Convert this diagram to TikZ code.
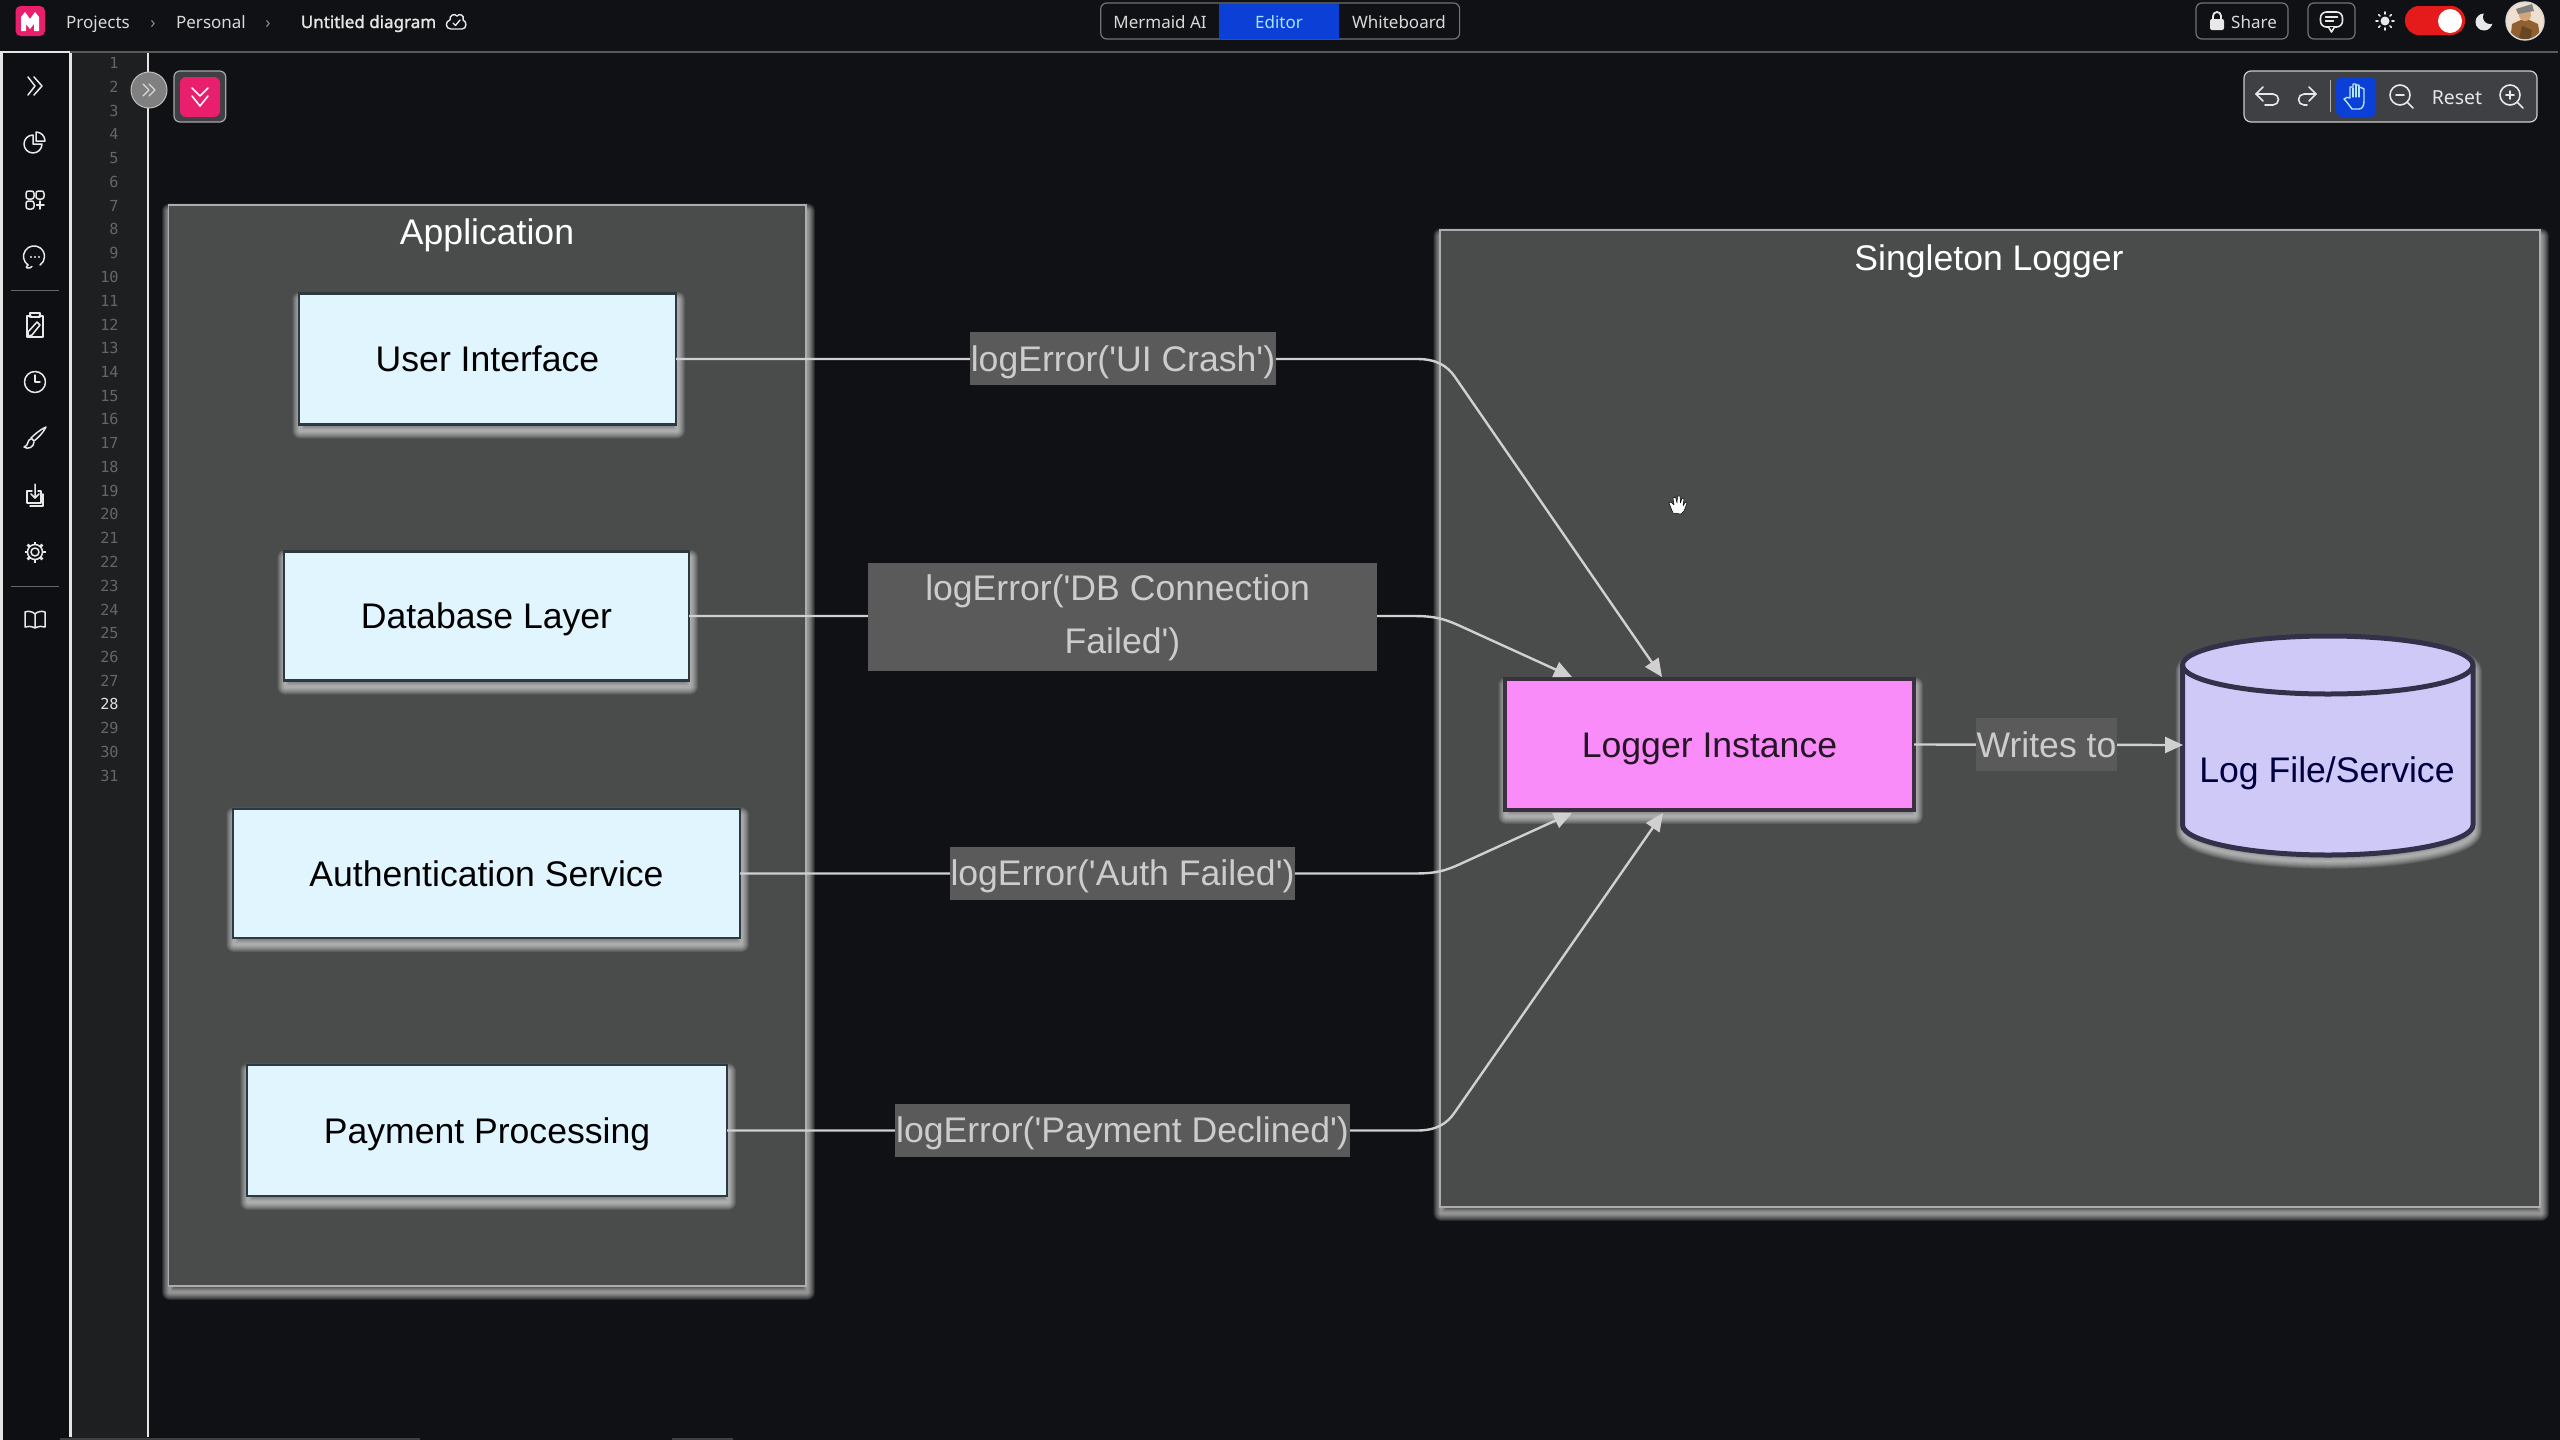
\documentclass[tikz,border=0pt]{standalone}
\usepackage{fontspec}
\usetikzlibrary{arrows.meta}
\setmainfont{Liberation Sans}[Ligatures=TeXOff]
\newfontfamily\uifont{Noto Sans}
\newfontfamily\uibold{Noto Sans}[FakeBold=1.6]
\newfontfamily\monof{DejaVu Sans Mono}
\definecolor{pagebg}{HTML}{101114}
\definecolor{sidebg}{HTML}{0E0F12}
\definecolor{gutterbg}{HTML}{1E1F21}
\definecolor{panelbg}{HTML}{4A4C4C}
\definecolor{lightnode}{HTML}{E1F5FE}
\definecolor{nodeedge}{HTML}{2C3A40}
\definecolor{lognode}{HTML}{F98CF9}
\definecolor{logedge}{HTML}{3A3040}
\definecolor{cylnode}{HTML}{CFC9F7}
\definecolor{cyledge}{HTML}{33304A}
\definecolor{labelbg}{HTML}{5A5A5A}
\definecolor{conncol}{HTML}{D0D0D0}
\definecolor{pinkbrand}{HTML}{E91E6C}
\definecolor{blueact}{HTML}{0B3FD6}
\definecolor{toolbg}{HTML}{3F4044}
\definecolor{ic}{HTML}{E8E8E8}
\tikzset{
  glowlayer/.style={preaction={draw=white,draw opacity=.055,line width=#1,line join=round,transform canvas={xshift=.5pt,yshift=-3pt}}},
  glow/.style={glowlayer=8pt,glowlayer=7.5pt,glowlayer=7pt,glowlayer=6.5pt,glowlayer=6pt,glowlayer=5.5pt,glowlayer=5pt,
    glowlayer=4.5pt,glowlayer=4pt,glowlayer=3.5pt,glowlayer=3pt,glowlayer=2.5pt,glowlayer=2pt,glowlayer=1.5pt,glowlayer=1pt},
  labeltext/.style={font=\fontsize{17.8}{21}\selectfont,text height=16pt,text depth=3.2pt},
  panelbox/.style={rectangle,glow,fill=panelbg,draw=white!68!black,line width=.9pt,inner sep=0,outer sep=0},
  titletext/.style={labeltext,text=white,inner sep=0},
  lightbox/.style={rectangle,glow,fill=lightnode,draw=nodeedge,line width=1.1pt,inner sep=0,outer sep=0,text=black,labeltext},
  loggerbox/.style={rectangle,glow,fill=lognode,draw=logedge,line width=2.4pt,inner sep=0,outer sep=0,text={black!85!lognode},labeltext},
  tag/.style={rectangle,fill=labelbg,inner sep=0,outer sep=0,text=white!80!black,labeltext},
  tagtwo/.style={rectangle,fill=labelbg,inner sep=0,outer sep=0,text=white!80!black,align=center,
    font=\fontsize{17.8}{26.5}\selectfont},
  conn/.style={draw=conncol,line width=1.2pt,-{Triangle[length=9pt,width=8pt,fill=conncol]}},
  lnum/.style={anchor=east,inner sep=0,text=white!40!black,font=\monof\fontsize{7.6}{9}\selectfont},
  ui/.style={inner sep=0,text=#1,font=\uifont\fontsize{8.5}{10}\selectfont,text height=8pt,text depth=2pt},
  ui/.default=white!85!black,
  iconline/.style={draw=ic,line width=.75pt,line cap=round,line join=round},
  framebox/.style={draw=white!45!black,line width=.6pt,rounded corners=3pt}
}
\newcommand\iconat[2]{\begin{scope}[shift={(#1,#2)},y=0.5pt,iconline]}
\newcommand\iconend{\end{scope}}
\begin{document}
\begin{tikzpicture}[x=0.5pt,y=-0.5pt]
\useasboundingbox (0,0) rectangle (2560,1440);
\fill[pagebg] (0,0) rectangle (2560,1440);
% side bars
\fill[sidebg] (0,52) rectangle (70,1440);
\fill[gutterbg] (70,52) rectangle (148,1440);
\draw[white!90!black,line width=1.3pt] (1.5,1440) -- (1.5,52) -- (70,52);
\draw[white!90!black,line width=1.3pt] (70.5,52) -- (70.5,1437);
\draw[white!90!black,line width=1pt] (148,52) -- (148,1437);
\draw[white!35!black,line width=1.2pt] (70,52) -- (2558,52);
\fill[white!25!black] (60,1437.5) rectangle (420,1440);
\fill[white!25!black] (672,1437.5) rectangle (733,1440);
% line numbers
\foreach \n in {1,...,27,29,30,31}{
  \node[lnum] (ln\n) at (119,{63.2+(\n-1)*23.75}) {\n};
}
\node[lnum,text=white!88!black] (ln28) at (119,704) {28};
% top bar, left
\fill[pinkbrand,rounded corners=2.5pt] (15.5,6) rectangle (45,36);
\fill[white] (21,31) -- (21,17) -- (25,12) -- (30,19) -- (35,12) -- (39,17) -- (39,31) -- (34,31) -- (34,24) -- (30,29) -- (26,24) -- (26,31) -- cycle;
\node[ui] (projects) at (98,22) {Projects};
\node[ui=white!55!black] (sep1) at (153,22) {›};
\node[ui] (personal) at (211,22) {Personal};
\node[ui=white!55!black] (sep2) at (268,22) {›};
\node[ui=white!90!black,font=\uibold\fontsize{8.5}{10}\selectfont] (title) at (368.5,22) {Untitled diagram};
\iconat{456}{22}
  \draw[line width=.7pt] (-5,-7) .. controls (-11,-7) and (-11,1) .. (-6,2) .. controls (-7,7) and (-1,9) .. (1,6) .. controls (3,9) and (9,7) .. (7,2) .. controls (11,1) and (11,-7) .. (6,-7) -- cycle;
  \draw[line width=.7pt] (-3,-1) -- (-.5,-3.5) -- (4,2);
\iconend
% tabs
\draw[framebox] (1100.7,3) rectangle (1459.6,39);
\fill[blueact] (1219,3.5) rectangle (1339,38.5);
\node[ui] (tabai) at (1160,22) {Mermaid AI};
\node[ui=blue!30!cyan!35!white] (tabed) at (1279,22) {Editor};
\node[ui] (tabwb) at (1399,22) {Whiteboard};
% share etc.
\draw[framebox] (2196,3) rectangle (2288,39);
\iconat{2217}{21}
  \fill[ic,rounded corners=1pt] (-7,-9) rectangle (7,2);
  \draw[line width=.9pt] (-4,2) -- (-4,5) arc[start angle=180,end angle=0,radius=4] -- (4,2);
\iconend
\node[ui] (share) at (2254,22) {Share};
\draw[framebox] (2308,3) rectangle (2355,39);
\iconat{2331.5}{21}
  \draw[line width=.8pt,rounded corners=3pt] (-11,9) rectangle (11,-6);
  \draw[line width=.8pt,fill=pagebg] (-3,-6) -- (0,-11) -- (3,-6);
  \draw[line width=.7pt] (-6,4) -- (6,4) (-6,0) -- (2,0);
\iconend
\iconat{2385}{21}
  \fill[ic] (0,0) circle[radius=4.5];
  \foreach \a in {0,45,...,315} \draw[line width=.8pt] (\a:7) -- (\a:9);
\iconend
\fill[red!85!pink!90!black,rounded corners=7pt] (2405,6) rectangle (2465,35);
\fill[white] (2450,21) circle[radius=12];
\fill[ic] (2484,22) circle[radius=8.5];
\fill[pagebg] (2490,17) circle[radius=7];
% avatar
\begin{scope}
  \clip (2525,21) circle[radius=19];
  \fill[white!75!brown] (2505,0) rectangle (2545,42);
  \fill[brown!75!black] (2510,42) -- (2512,24) -- (2525,18) -- (2538,24) -- (2541,42) -- cycle;
  \fill[black!45!brown] (2518,42) -- (2522,26) -- (2532,30) -- (2530,42) -- cycle;
  \fill[brown!70!white] (2525,15) circle[radius=6];
  \fill[gray] (2516,9) -- (2532,4) -- (2534,11) -- (2518,14) -- cycle;
\end{scope}
\draw[white!85!black,line width=.7pt] (2525,21) circle[radius=19];
% collapse button
\fill[white!50!black,draw=white!75!black,line width=.5pt] (149,90) ellipse[x radius=18,y radius=18];
\iconat{149}{90}
  \draw[line width=.7pt,draw=white!85!black] (-6,6) -- (0,0) -- (-6,-6) (0,6) -- (6,0) -- (0,-6);
\iconend
\draw[fill=toolbg,draw=white!65!black,line width=.6pt,rounded corners=3pt] (174,71) rectangle (225.7,122);
\fill[pinkbrand,rounded corners=3pt] (180,77) rectangle (220,117);
\iconat{200}{97}
  \draw[line width=.8pt,draw=white!90!pink] (-8,9) -- (0,1) -- (8,9) (-8,1) -- (0,-9) -- (8,1);
\iconend
% sidebar icons
\iconat{35}{86}
  \draw (-7,9) -- (0,0) -- (-7,-9) (-1,9) -- (7,0) -- (-1,-9);
\iconend
\iconat{35}{143}
  \draw (-2,8) arc[start angle=90,delta angle=270,radius=9] -- (-2,-1) -- cycle;
  \draw (1,11) -- (1,2) -- (10,2) arc[start angle=0,delta angle=90,radius=9];
\iconend
\iconat{35}{200}
  \draw[rounded corners=1.2pt] (-9,1) rectangle (-1,9);
  \draw[rounded corners=1.2pt] (1,1) rectangle (9,9);
  \draw[rounded corners=1.2pt] (-9,-9) rectangle (-1,-1);
  \draw (1.5,-5) -- (9,-5) (5,-9) -- (5,-1);
\iconend
\iconat{35}{257}
  \draw (-7,-8) arc[start angle=-125,delta angle=-290,radius=10.5];
  \draw (-7,-8) .. controls (-9,-9) and (-9,-11) .. (-8,-11) .. controls (-6,-11) and (-4,-11) .. (-3,-9.5);
  \fill[ic] (-4,0) circle[radius=1.2] (0,0) circle[radius=1.2] (4,0) circle[radius=1.2];
\iconend
\draw[white!40!black,line width=.5pt] (11,290) -- (59,290);
\iconat{35}{325}
  \draw (-4,9) -- (-8,9) -- (-8,-12) -- (8,-12) -- (8,9) -- (4,9);
  \draw (-5,8) rectangle (5,12);
  \draw (-7,-11) -- (-7,-7) -- (2,3) -- (5,0) -- (-3,-10) -- cycle;
\iconend
\iconat{35}{382}
  \draw (0,0) circle[radius=10.5];
  \draw (0,7) -- (0,0) -- (5,0);
\iconend
\iconat{35}{438}
  \draw (11,11) .. controls (8,5) and (3,0) .. (-1,-3) -- (-4,0) .. controls (0,4) and (6,9) .. (11,11);
  \draw (-4,-1) .. controls (-8,-1) and (-6,-8) .. (-11,-9) .. controls (-7,-12) and (-1,-9) .. (-1,-4);
\iconend
\iconat{35}{496}
  \draw (-3,5) -- (-8,5) -- (-8,-7) -- (6,-7) -- (6,5) -- (3,5);
  \draw (-5,-10) -- (8,-10) -- (8,2);
  \draw (0,12) -- (0,-2) (-4,2) -- (0,-2) -- (4,2);
\iconend
\iconat{35}{552}
  \draw (0,0) circle[radius=4];
  \draw (0,0) circle[radius=7.5];
  \foreach \a in {0,45,...,315} \draw[line width=1.4pt,line cap=butt] (\a:7.5) -- (\a:10.5);
\iconend
\draw[white!40!black,line width=.5pt] (11,586) -- (59,586);
\iconat{35}{620}
  \draw (0,-8) .. controls (-4,-6) and (-7,-6) .. (-10,-7) -- (-10,8) .. controls (-7,9) and (-3,9) .. (0,6) .. controls (3,9) and (7,9) .. (10,8) -- (10,-7) .. controls (7,-6) and (4,-6) .. (0,-8) -- (0,6);
\iconend
% toolbar
\draw[fill=toolbg,draw=white!80!black,line width=.6pt,rounded corners=3.5pt] (2244,71) rectangle (2537,122);
\iconat{2265}{97}
  \draw[line width=.8pt] (-9,3) -- (8,3) arc[start angle=90,end angle=-90,radius=5.5] -- (0,-8);
  \draw[line width=.8pt] (-2,10) -- (-9,3) -- (-2,-4);
\iconend
\iconat{2307}{97}
  \draw[line width=.8pt] (9,3) -- (-3,3) arc[start angle=90,end angle=270,radius=5.5] -- (0,-8);
  \draw[line width=.8pt] (2,10) -- (9,3) -- (2,-4);
\iconend
\draw[white!70!black,line width=.5pt] (2330.5,80) -- (2330.5,112);
\fill[blueact,rounded corners=3pt] (2336,77) rectangle (2376,117);
\iconat{2356}{97}
  \draw[line width=.7pt,draw=cyan!30!white] (-4,-12) .. controls (-7,-8) and (-9,-5) .. (-12,-2) .. controls (-10,0) and (-8,0) .. (-6,-1) -- (-6,10) -- (-3,10) -- (-3,13) -- (0,13) -- (0,12) -- (3,12) -- (3,10) -- (6,9) -- (8,8) -- (8,-4) .. controls (8,-9) and (6,-12) .. (3,-12) -- cycle;
  \draw[line width=.6pt,draw=cyan!30!white] (-3,9) -- (-3,0) (0,12) -- (0,0) (3,11) -- (3,0);
\iconend
\iconat{2400}{95}
  \draw[line width=.8pt] (0,0) circle[radius=10];
  \draw[line width=.8pt] (-4,0) -- (4,0) (7,-7) -- (13,-13);
\iconend
\node[ui=white!90!black,font=\uifont\fontsize{9.7}{11}\selectfont] (resetbtn) at (2457,98) {Reset};
\iconat{2510}{95}
  \draw[line width=.8pt] (0,0) circle[radius=10];
  \draw[line width=.8pt] (-4,0) -- (4,0) (0,-4) -- (0,4) (7,-7) -- (13,-13);
\iconend
% panels
\node[panelbox,minimum width=318.75pt,minimum height=540.5pt] (app) at (487.25,745.5) {};
\node[panelbox,minimum width=550pt,minimum height=488.5pt] (singleton) at (1990,718.5) {};
\node[titletext] (apptitle) at (487,231.5) {Application};
\node[titletext] (singtitle) at (1989,258) {Singleton Logger};
% left nodes
\node[lightbox,minimum width=188.5pt,minimum height=65.5pt] (uinode) at (487.5,359) {User Interface};
\node[lightbox,minimum width=202.5pt,minimum height=64.5pt] (dbnode) at (486.5,616) {Database Layer};
\node[lightbox,minimum width=253.5pt,minimum height=64.5pt] (authnode) at (486.5,873.5) {Authentication Service};
\node[lightbox,minimum width=240pt,minimum height=65.5pt] (paynode) at (487,1130.5) {Payment Processing};
% logger
\node[loggerbox,minimum width=204.5pt,minimum height=65.5pt] (logger) at (1709.5,744.5) {Logger Instance};
% log file cylinder
\path[glow,fill=cylnode,draw=cyledge,line width=2.5pt,line join=round]
  (2182.5,665) .. controls (2182.5,649) and (2248,636) .. (2328,636) .. controls (2408,636) and (2473,649) .. (2473,665)
  -- (2473,825) .. controls (2473,841) and (2408,855) .. (2328,855) .. controls (2248,855) and (2182.5,841) .. (2182.5,825) -- cycle;
\draw[draw=cyledge,line width=2.5pt]
  (2182.5,665) .. controls (2182.5,681) and (2248,694) .. (2328,694) .. controls (2408,694) and (2473,681) .. (2473,665);
\node[minimum width=145pt,minimum height=110pt,inner sep=0,outer sep=0] (logfile) at (2328,745) {};
\node[inner sep=0,text=blue!25!black,labeltext] (logtext) at (2327,770) {Log File/Service};
% connector end points on the logger
\coordinate (inA) at (1662,677);
\coordinate (inB) at (1572,677);
\coordinate (inC) at (1572,813);
\coordinate (inD) at (1663,813);
% connectors
\draw[conn] (uinode.east) -- (1417,359) .. controls (1436,359) and (1447,365.4) .. (1455,377) -- (inA);
\draw[conn] (dbnode.east) -- (1411,616) .. controls (1430,616) and (1440,617) .. (1458,625) -- (inB);
\draw[conn] (authnode.east) -- (1411,873.5) .. controls (1430,873.5) and (1440,873) .. (1458,865) -- (inC);
\draw[conn] (paynode.east) -- (1417,1130.5) .. controls (1436,1130.5) and (1447,1124) .. (1455,1112) -- (inD);
\draw[conn] (logger.east) -- (logfile.west);
% labels
\node[tag,minimum width=153pt,minimum height=26.5pt] (tagui) at (1123,358.5) {logError('UI Crash')};
\node[tagtwo,minimum width=254.5pt,minimum height=54pt] (tagdb) at (1122.5,617) {\rule{0pt}{13.9pt}logError('DB Connection\kern4.9pt\\Failed')};
\node[tag,minimum width=172.5pt,minimum height=26.5pt] (tagauth) at (1122.5,873) {logError('Auth Failed')};
\node[tag,minimum width=227.5pt,minimum height=26.5pt] (tagpay) at (1122.5,1130) {logError('Payment Declined')};
\node[tag,minimum width=70.5pt,minimum height=26.5pt] (tagwrite) at (2046.5,744.5) {Writes to};
% hand cursor
\fill[white,draw=black,line width=.25pt,line join=round] (1673,513) -- (1669,503) -- (1671,502) -- (1674,505) -- (1673,498) -- (1675.5,497) -- (1677,503) -- (1677.5,496) -- (1680,496) -- (1680.5,503) -- (1682,498) -- (1684,499) -- (1683,506) -- (1685.5,502) -- (1687,503) -- (1684,511) -- (1681,514) -- cycle;
\end{tikzpicture}
\end{document}
